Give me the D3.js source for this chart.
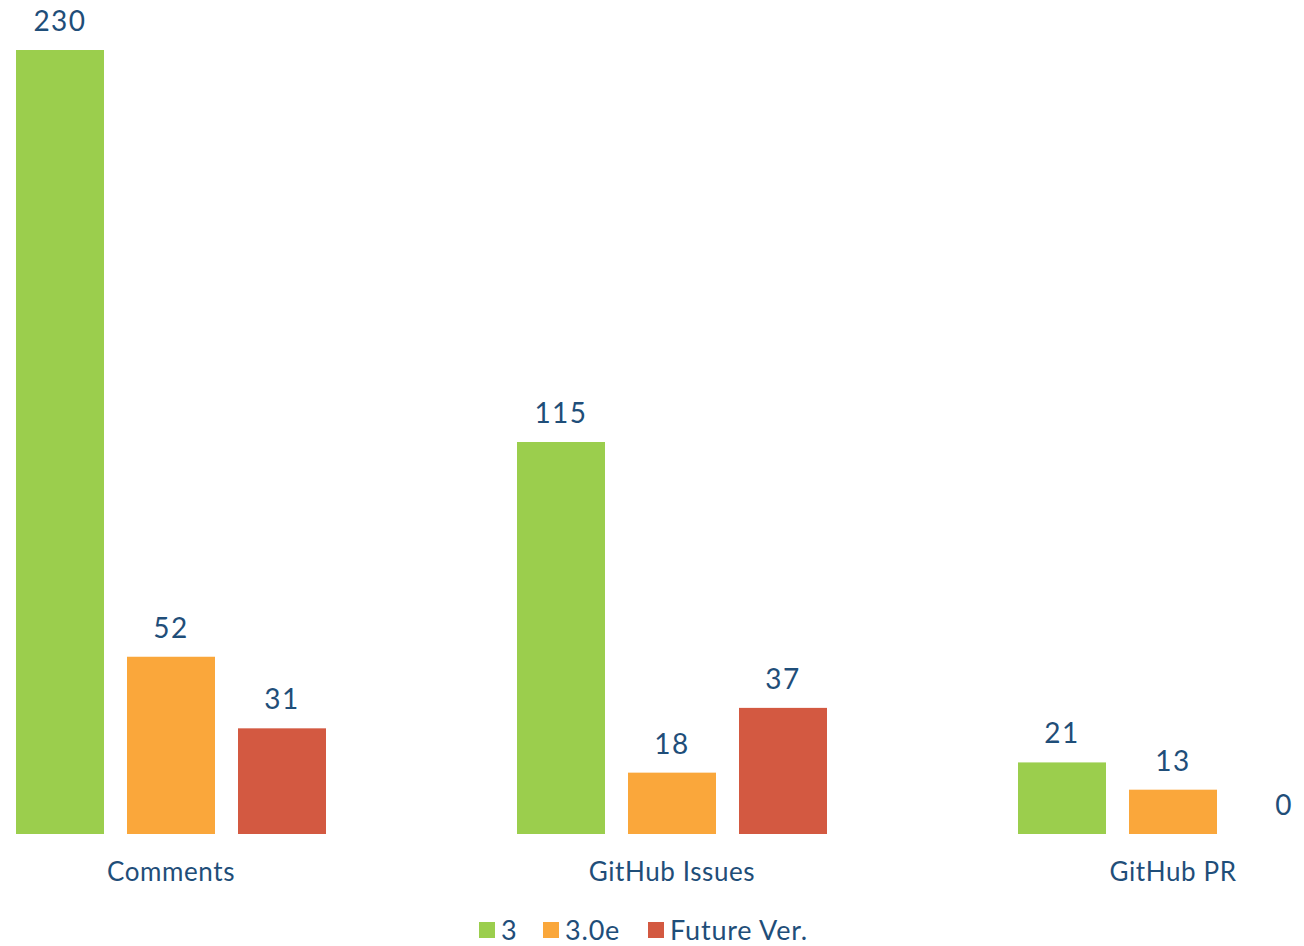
<!DOCTYPE html>
<html>
<head>
<meta charset="utf-8">
<script src="https://cdn.jsdelivr.net/npm/d3@7"></script>
<style>
  body { margin: 0; background: #fff; }
  text { font-family: Lato, "Open Sans", sans-serif; fill: #1F4E79; }
</style>
</head>
<body>
<div class="graphic"><div class="graphic__vis"></div></div>
<script>
// chart data
var categories = ['Comments', 'GitHub Issues', 'GitHub PR']
var seriesNames = ['3', '3.0e', 'Future Ver.']
var seriesColors = ['#9BCE4D', '#FAA73B', '#D35941']
var values3 = [230, 115, 21]
var values30e = [52, 18, 13]
var valuesFuture = [31, 37, 0]

var seriesValues = [values3, values30e, valuesFuture]

var width = 1304
var height = 946
var baseline = 834

var svg = d3.select('.graphic__vis').append('svg')
  .attr('width', width)
  .attr('height', height)

var x0 = d3.scaleBand()
  .domain(categories)
  .range([-79.5, 1423.5])

var x1 = d3.scaleBand()
  .domain(d3.range(seriesNames.length))
  .range([95.5, 405.5])
  .paddingInner(23 / 111)

var y = d3.scaleLinear()
  .domain([0, 230])
  .range([baseline, 50])

var groups = svg.selectAll('.group')
  .data(categories)
  .enter().append('g')
    .attr('class', 'group')
    .attr('transform', function(d) { return 'translate(' + x0(d) + ',0)' })

var cells = groups.selectAll('.cell')
  .data(function(d, i) {
    return seriesValues.map(function(s, j) { return { s: j, v: s[i] } })
  })
  .enter().append('g')
    .attr('class', 'cell')

cells.append('rect')
  .attr('x', function(d) { return x1(d.s) })
  .attr('width', x1.bandwidth())
  .attr('y', function(d) { return y(d.v) })
  .attr('height', function(d) { return baseline - y(d.v) })
  .attr('fill', function(d) { return seriesColors[d.s] })

cells.append('text')
  .attr('x', function(d) { return x1(d.s) + x1.bandwidth() / 2 })
  .attr('y', function(d) { return y(d.v) - 19 })
  .attr('text-anchor', 'middle')
  .style('font-size', '28px')
  .style('letter-spacing', '1.5px')
  .text(function(d) { return d.v })

groups.append('text')
  .attr('x', x0.bandwidth() / 2)
  .attr('y', 881)
  .attr('text-anchor', 'middle')
  .style('font-size', '26px')
  .style('letter-spacing', '0.6px')
  .text(function(d) { return d })

// legend
var legend = svg.append('g').attr('class', 'legend')
var legendX = [479, 543, 648]
var item = legend.selectAll('.key')
  .data(seriesNames)
  .enter().append('g')
    .attr('class', 'key')
    .attr('transform', function(d, i) { return 'translate(' + legendX[i] + ',0)' })

item.append('rect')
  .attr('y', 922)
  .attr('width', 16)
  .attr('height', 16)
  .attr('fill', function(d, i) { return seriesColors[i] })

item.append('text')
  .attr('x', 22)
  .attr('y', 940)
  .style('font-size', '27px')
  .style('letter-spacing', '0.8px')
  .text(function(d) { return d })
</script>
</body>
</html>
